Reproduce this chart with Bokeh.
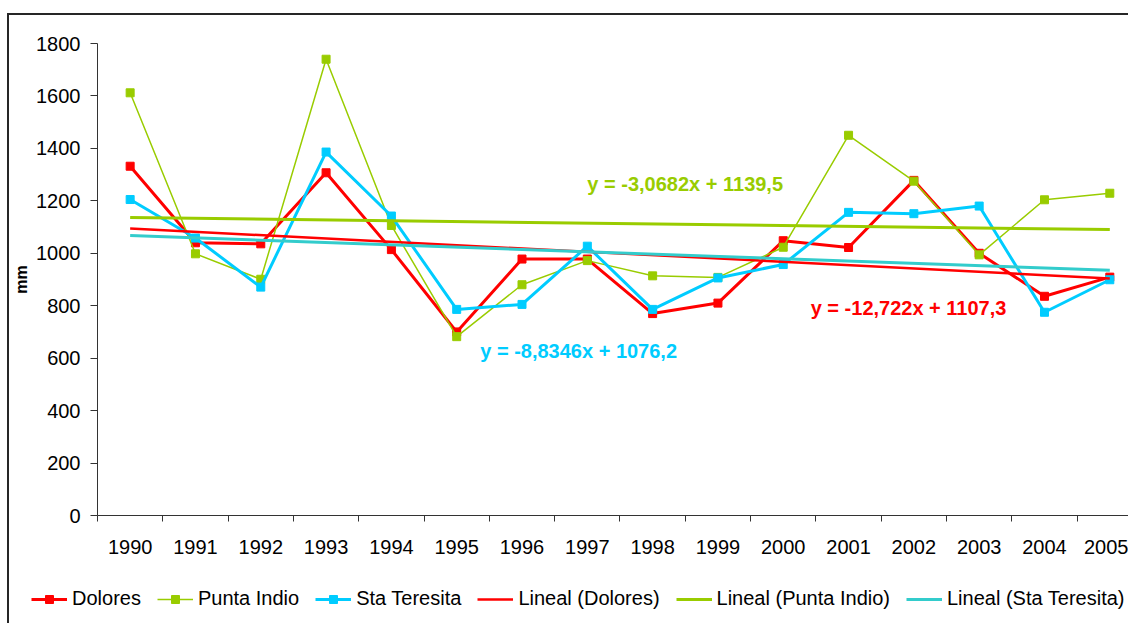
from bokeh.plotting import figure
from bokeh.layouts import column
from bokeh.models import (ColumnDataSource, FixedTicker, Range1d, Legend, LegendItem, Label)
from bokeh.embed import file_html
from bokeh.resources import INLINE

# ---------------- data ----------------
years = list(range(1990, 2006))
dolores = [1332, 1040, 1036, 1307, 1014, 700, 978, 978, 770, 810, 1048, 1022, 1278, 1000, 836, 909]
punta_indio = [1612, 998, 901, 1740, 1106, 682, 880, 972, 914, 908, 1023, 1450, 1275, 994, 1204, 1229]
sta_teresita = [1205, 1058, 871, 1386, 1142, 786, 805, 1027, 786, 906, 957, 1156, 1151, 1180, 775, 899]
series_names = ["Dolores", "Punta Indio", "Sta Teresita"]
trend_names = ["Lineal (Dolores)", "Lineal (Punta Indio)", "Lineal (Sta Teresita)"]
trend_slopes = [-12.722, -3.0682, -8.8346]
trend_intercepts = [1107.3, 1139.5, 1076.2]
trend_labels = ["y = -12,722x + 1107,3", "y = -3,0682x + 1139,5", "y = -8,8346x + 1076,2"]
y_ticks = [0, 200, 400, 600, 800, 1000, 1200, 1400, 1600, 1800]
y_axis_label = "mm"

FONT = "Liberation Sans"
BORDER = "2px solid #262626"
series_colors = ["#FF0000", "#99CC00", "#00CCFF"]
series_widths = [3, 1.5, 3]
trend_colors = ["#FF0000", "#99CC00", "#33CCCC"]
trend_widths = [2.5, 3, 3]

series_sources = [ColumnDataSource(dict(x=years, y=vals)) for vals in [dolores, punta_indio, sta_teresita]]
x0, x1 = years[0], years[-1]
trend_sources = []
for m, b in zip(trend_slopes, trend_intercepts):
    xs = [x0, x1]
    trend_sources.append(ColumnDataSource(dict(x=xs, y=[m * (x - x0 + 1) + b for x in xs])))

# ---------------- main chart ----------------
p = figure(width=1121, height=560, output_backend="svg", toolbar_location=None,
           x_range=Range1d(1989.5, 2005.317), y_range=Range1d(0, 1800),
           min_border_left=88, min_border_top=28, min_border_bottom=60, min_border_right=0)
p.frame_align = False
p.margin = (13, 0, 0, 7)
p.styles = {"border-left": BORDER, "border-top": BORDER}
p.outline_line_color = None
p.xgrid.visible = False
p.ygrid.visible = False
p.background_fill_color = "white"
p.border_fill_color = "white"

# x axis: labels at year centres, tick marks between categories
p.xaxis.ticker = FixedTicker(ticks=years, minor_ticks=[y - 0.5 for y in years] + [years[-1] + 0.5])
p.xaxis.major_tick_out = 0
p.xaxis.major_tick_in = 0
p.xaxis.minor_tick_out = 6
p.xaxis.minor_tick_in = 0
p.xaxis.major_label_text_font = FONT
p.xaxis.major_label_text_font_size = "20px"
p.xaxis.major_label_text_color = "black"
p.xaxis.major_label_standoff = 18
p.xaxis.axis_line_color = "#333333"
p.xaxis.minor_tick_line_color = "#333333"

p.yaxis.ticker = FixedTicker(ticks=y_ticks, minor_ticks=[])
p.yaxis.major_tick_out = 7
p.yaxis.major_tick_in = 0
p.yaxis.minor_tick_out = 0
p.yaxis.major_label_text_font = FONT
p.yaxis.major_label_text_font_size = "20px"
p.yaxis.major_label_text_color = "black"
p.yaxis.major_label_standoff = 10
p.yaxis.axis_line_color = "#333333"
p.yaxis.major_tick_line_color = "#333333"
p.yaxis.axis_label = y_axis_label
p.yaxis.axis_label_text_font = FONT
p.yaxis.axis_label_text_font_style = "bold"
p.yaxis.axis_label_text_font_size = "16px"
p.yaxis.axis_label_text_color = "black"
p.yaxis.axis_label_standoff = 3

for src, col, w in zip(series_sources, series_colors, series_widths):
    p.line("x", "y", source=src, line_color=col, line_width=w)
    p.scatter("x", "y", source=src, marker="square", size=8, fill_color=col, line_color=col)
for src, col, w in zip(trend_sources, trend_colors, trend_widths):
    p.line("x", "y", source=src, line_color=col, line_width=w)

# trend equation labels
label_pos = [(2000.42, 789.5), (1997.0, 1263.6), (1995.36, 625.5)]
for txt, (lx, ly), col in zip(trend_labels, label_pos, trend_colors[:2] + ["#00CCFF"]):
    p.add_layout(Label(x=lx, y=ly, text=txt, text_color=col, text_font=FONT,
                       text_font_style="bold", text_font_size="20px",
                       text_align="left", text_baseline="middle"))

# ---------------- legend strip (same sources, view range excludes them) ----------------
lg = figure(width=1121, height=50, output_backend="svg", toolbar_location=None,
            x_range=Range1d(0, 1), y_range=Range1d(0, 1),
            min_border=0, x_axis_type=None, y_axis_type=None)
lg.frame_align = False
lg.margin = (0, 0, 0, 7)
lg.styles = {"border-left": BORDER}
lg.outline_line_color = None
lg.xgrid.visible = False
lg.ygrid.visible = False

items = []
for name, src, col, w in zip(series_names, series_sources, series_colors, series_widths):
    r1 = lg.line("x", "y", source=src, line_color=col, line_width=w)
    r2 = lg.scatter("x", "y", source=src, marker="square", size=8, fill_color=col, line_color=col)
    items.append(LegendItem(label=name, renderers=[r1, r2]))
for name, src, col, w in zip(trend_names, trend_sources, trend_colors, trend_widths):
    r = lg.line("x", "y", source=src, line_color=col, line_width=w)
    items.append(LegendItem(label=name, renderers=[r]))

legend = Legend(items=items, orientation="horizontal", location=(22, 13),
                glyph_width=36, glyph_height=20, label_standoff=5, spacing=16,
                padding=0, margin=0, border_line_color=None, background_fill_alpha=0,
                label_text_font=FONT, label_text_font_size="20px", label_text_color="black")
lg.add_layout(legend, "center")

layout = column(p, lg, spacing=0)
open("out.html", "w").write(file_html(layout, INLINE))
